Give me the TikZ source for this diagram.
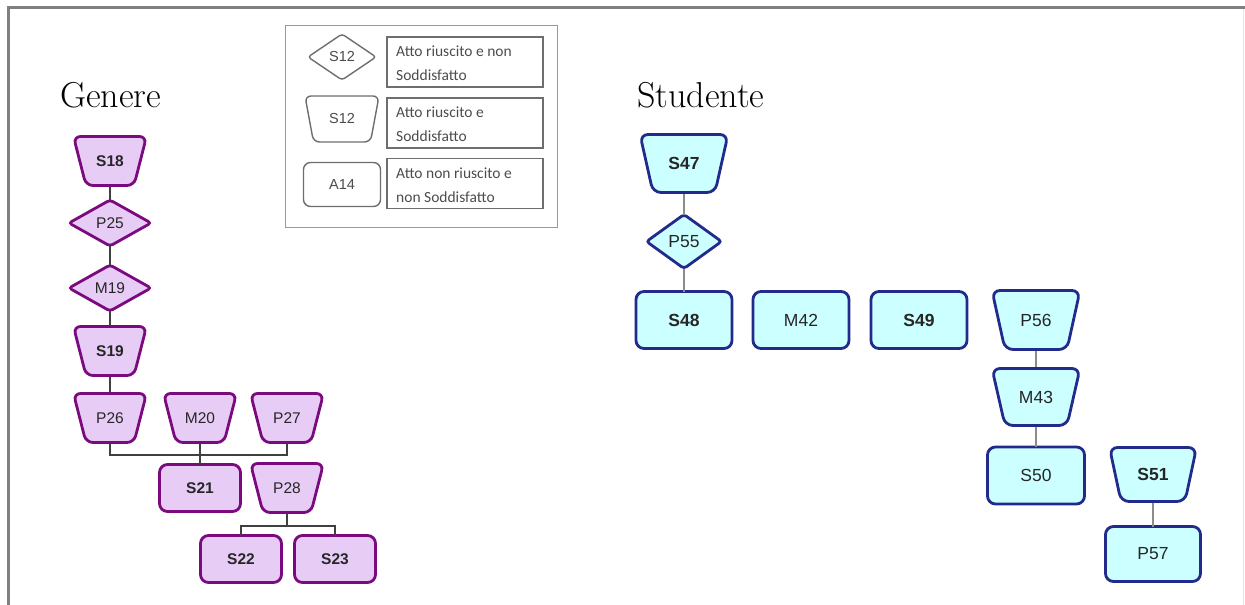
\documentclass[tikz,border=0pt]{standalone}
\usepackage{fontspec}
\newfontfamily\arialfont{Liberation Sans}
\newfontfamily\calfont{Carlito}
\usetikzlibrary{shapes.geometric}

\definecolor{gfill}{HTML}{E7CCF6}
\definecolor{gline}{HTML}{7B0A7E}
\definecolor{sfill}{HTML}{CCFFFF}
\definecolor{sline}{HTML}{222A8C}
\definecolor{lgray}{HTML}{6E6E6E}
\definecolor{frame}{HTML}{808080}

\tikzset{
  lbl/.style={inner sep=0pt, outer sep=0pt, text=black!85},
  gfont/.style={font=\arialfont\fontsize{15.5}{15.5}\selectfont},
  sfont/.style={font=\arialfont\fontsize{17.5}{17.5}\selectfont},
  gbase/.style={lbl, gfont, draw=gline, fill=gfill, line width=2.8pt},
  sbase/.style={lbl, sfont, draw=sline, fill=sfill, line width=2.8pt},
  lbase/.style={lbl, draw=lgray, fill=white, line width=1.4pt, text=black!70,
    font=\arialfont\fontsize{14.5}{14.5}\selectfont},
  % outline of the trapezoid boxes
  gtrapline/.style={draw=gline, fill=gfill, line width=2.8pt, rounded corners=7pt},
  strapline/.style={draw=sline, fill=sfill, line width=2.8pt, rounded corners=8pt},
  ltrapline/.style={draw=lgray, fill=white, line width=1.4pt, rounded corners=6pt},
  % text holders placed over the trapezoids
  gtraptext/.style={lbl, gfont},
  straptext/.style={lbl, sfont},
  ltraptext/.style={lbl, text=black!70, font=\arialfont\fontsize{14.5}{14.5}\selectfont},
  dia/.style={diamond, rounded corners=3pt},
  rbox/.style={rectangle, rounded corners=8pt},
  gdia/.style={gbase, dia, minimum width=82pt, minimum height=46pt},
  grect/.style={gbase, rbox, minimum width=81pt, minimum height=47pt},
  sdia/.style={sbase, dia, minimum width=75pt, minimum height=54pt},
  srect/.style={sbase, rbox, minimum width=96pt, minimum height=57pt},
  gwire/.style={draw=black!75, line width=2.4pt},
  swire/.style={draw=black!45, line width=2.6pt},
  title/.style={inner sep=0pt, anchor=base west, font=\fontsize{36}{36}\selectfont},
  ltext/.style={draw=lgray, line width=1.8pt, minimum width=156pt, minimum height=50pt,
    inner sep=0pt},
  ldesc/.style={inner sep=0pt, anchor=west, align=left, text=black!70,
    font=\calfont\fontsize{15.5}{24}\selectfont}
}

% #1 outline style, #2 text style, #3 name, #4 x, #5 y,
% #6 top half width, #7 bottom half width, #8 half height, #9 label
\newcommand\trapnode[9]{%
  \draw[#1] ({#4-#6},{#5-#8}) -- ({#4+#6},{#5-#8}) -- ({#4+#7},{#5+#8})
    -- ({#4-#7},{#5+#8}) -- cycle;
  \node[#2, minimum width={2*#7}, minimum height={2*#8+2.8}] (#3) at (#4,#5) {#9};%
}

\begin{document}
\begin{tikzpicture}[x=1pt, y=-1pt]
\useasboundingbox (0,0) rectangle (1245,605);

% page frame
\draw[frame, line width=3pt] (8.5,605) -- (8.5,7.5) -- (1245,7.5);
\draw[black!10, line width=1pt] (1243,9) -- (1243,605);

% legend
\node[draw=black!40, line width=1pt, minimum width=272pt, minimum height=202pt, inner sep=0pt]
  (legend) at (421.5,126) {};
\node[lbase, dia, minimum width=68pt, minimum height=46pt] (leg1) at (342,57) {S12};
\node[ltext] (legtx1) at (465,62) {};
\node[ldesc] (legd1) at (396,63) {Atto riuscito e non\\Soddisfatto};
\trapnode{ltrapline}{ltraptext}{leg2}{342}{119}{37}{28.5}{23}{S12}
\node[ltext] (legtx2) at (465,123) {};
\node[ldesc] (legd2) at (396,124) {Atto riuscito e\\Soddisfatto};
\node[lbase, rbox, minimum width=77pt, minimum height=44pt, rounded corners=7pt]
  (leg3) at (342,184.5) {A14};
\node[ltext] (legtx3) at (465,183.5) {};
\node[ldesc] (legd3) at (396,185) {Atto non riuscito e\\non Soddisfatto};

% Genere
\node[title] (tgen) at (60,107) {Genere};
\trapnode{gtrapline}{gtraptext}{S18}{110}{161}{36.5}{24}{24.5}{\bfseries S18}
\node[gdia]  (P25) at (110,223) {P25};
\node[gdia]  (M19) at (110,288) {M19};
\trapnode{gtrapline}{gtraptext}{S19}{110}{351}{36.5}{24}{24.5}{\bfseries S19}
\trapnode{gtrapline}{gtraptext}{P26}{110}{418}{36.5}{24}{24.5}{P26}
\trapnode{gtrapline}{gtraptext}{M20}{200}{418}{36.5}{24}{24.5}{M20}
\trapnode{gtrapline}{gtraptext}{P27}{287}{418}{36.5}{24}{24.5}{P27}
\node[grect] (S21) at (200,488) {\bfseries S21};
\trapnode{gtrapline}{gtraptext}{P28}{287}{488}{36.5}{24}{24.5}{P28}
\node[grect] (S22) at (241,559) {\bfseries S22};
\node[grect] (S23) at (335,559) {\bfseries S23};
\coordinate (busA) at (200,455);
\coordinate (busB) at (287,526);

\draw[gwire] (S18) -- (P25);
\draw[gwire] (P25) -- (M19);
\draw[gwire] (M19) -- (S19);
\draw[gwire] (S19) -- (P26);
\draw[gwire] (P26.south) |- (busA) -| (P27.south);
\draw[gwire] (M20.south) -- (S21.north);
\draw[gwire] (P28.south) -- (busB);
\draw[gwire] (S22.north) |- (busB) -| (S23.north);

% Studente
\node[title] (tstu) at (637,107) {Studente};
\trapnode{strapline}{straptext}{S47}{684}{163.5}{44}{31}{29}{\bfseries S47}
\node[sdia]  (P55) at (684,241.5) {P55};
\node[srect] (S48) at (684,320) {\bfseries S48};
\node[srect] (M42) at (801,320) {M42};
\node[srect] (S49) at (919,320) {\bfseries S49};
\trapnode{strapline}{straptext}{P56}{1036}{320}{44}{31}{29.5}{P56}
\trapnode{strapline}{straptext}{M43}{1036}{397}{44}{31}{28.5}{M43}
\node[srect, minimum width=97pt] (S50) at (1036,475.5) {S50};
\trapnode{strapline}{straptext}{S51}{1153}{474.5}{43.5}{32}{27}{\bfseries S51}
\node[srect, minimum width=95pt, minimum height=55pt] (P57) at (1153,554) {P57};

\draw[swire] (S47) -- (P55);
\draw[swire] (P55) -- (S48);
\draw[swire] (P56) -- (M43);
\draw[swire] (M43) -- (S50);
\draw[swire] (S51) -- (P57);
\end{tikzpicture}
\end{document}
